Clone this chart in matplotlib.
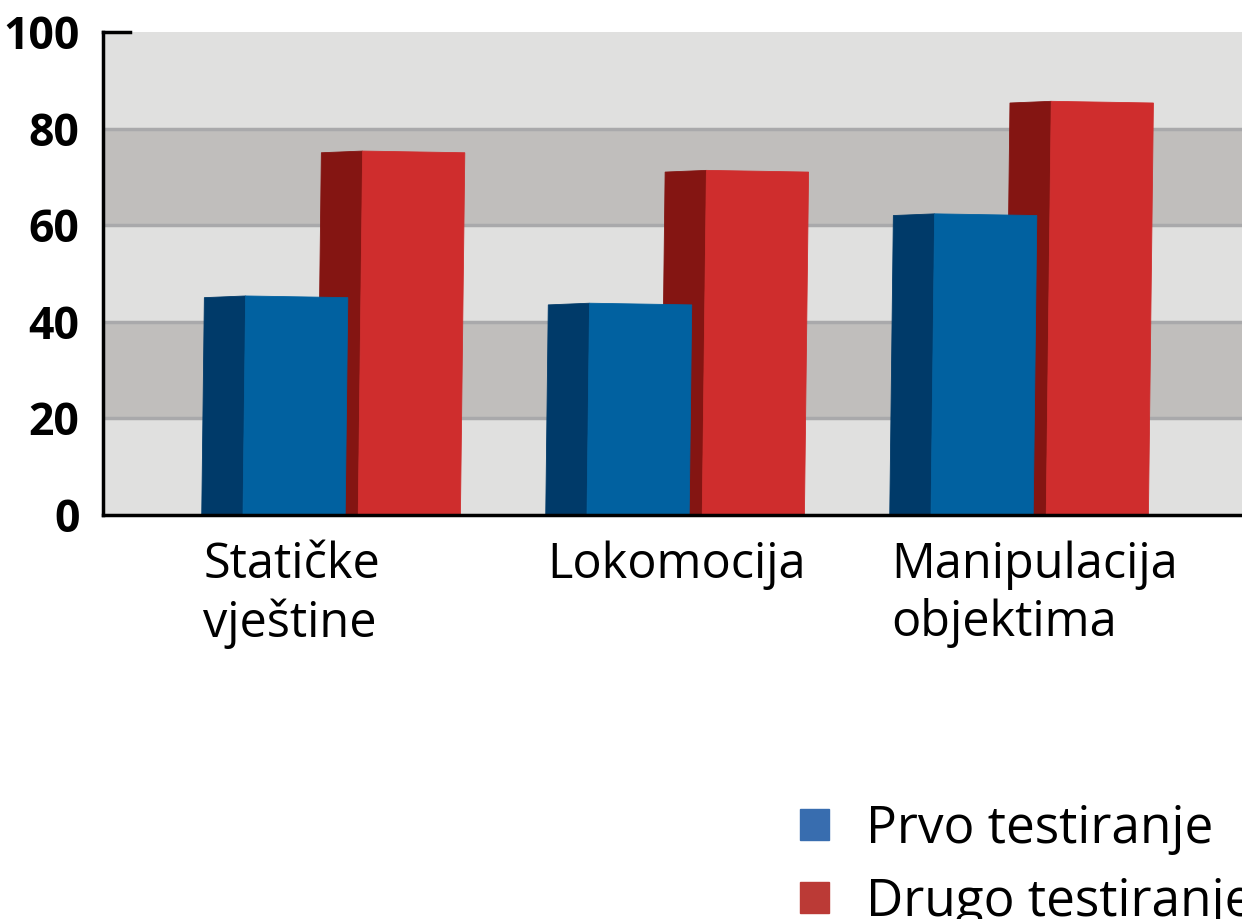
import numpy as np
import matplotlib
matplotlib.use("Agg")
import matplotlib.pyplot as plt
from matplotlib.patches import Polygon, Patch

plt.rcParams['font.family'] = ['Open Sans', 'DejaVu Sans']

# podaci
categories = ["Statičke\nvještine", "Lokomocija", "Manipulacija\nobjektima"]
series_names = ["Prvo testiranje", "Drugo testiranje"]
prvo = [45, 43.5, 62]
drugo = [75, 71, 85.3]
y_ticks = [0, 20, 40, 60, 80, 100]

# boje (prednja strana, bocna strana, legenda)
front_cols = ["#0161a0", "#cf2d2d"]
side_cols = ["#003a69", "#841512"]
legend_cols = ["#386daf", "#bb3a36"]

fig = plt.figure(figsize=(12.42, 9.19), dpi=100)
ax = fig.add_axes([103/1242, 1 - 515/919, 1 - 103/1242, (515 - 32)/919])

x = np.arange(len(categories))
ax.set_xlim(-0.666, 2.645)
ax.set_ylim(0, 100)

# pozadina s trakama
ax.set_facecolor("#e0e0df")
for lo in (20, 60):
    ax.axhspan(lo, lo + 20, color="#c0bebc", zorder=0)
for g in (20, 40, 60, 80):
    ax.axhline(g, color="#a9a9ab", lw=2.5, zorder=1)

# 3D stupci: bocna strana lijevo + prednja strana
w = 0.297      # sirina prednje strane
d = 0.12       # dubina bocne strane
offs = [-0.259, 0.076]   # lijevi rub prednje strane u grupi
skew = 1.7e-4  # nagib po jedinici visine
bump = 0.35    # perspektiva na vrhu

def draw_bar(xl, h, fc, sc, z):
    s = skew * h
    side = [(xl - d, 0), (xl, 0), (xl + s, h + bump), (xl - d + s, h)]
    front = [(xl, 0), (xl + w, 0), (xl + w + s, h), (xl + s, h + bump)]
    ax.add_patch(Polygon(side, closed=True, fc=sc, ec=sc, lw=0.6, zorder=z))
    ax.add_patch(Polygon(front, closed=True, fc=fc, ec=fc, lw=0.6, zorder=z))

for i in range(len(categories)):
    draw_bar(x[i] + offs[1], drugo[i], front_cols[1], side_cols[1], 3)
    draw_bar(x[i] + offs[0], prvo[i], front_cols[0], side_cols[0], 4)

# osi
for sp in ("top", "right"):
    ax.spines[sp].set_visible(False)
ax.spines["left"].set_linewidth(2.5)
ax.spines["bottom"].set_linewidth(2.5)
ax.spines["left"].set_zorder(6)
ax.spines["bottom"].set_zorder(6)
ax.plot([0, 0.024], [100, 100], color="black", lw=2.5, transform=ax.get_yaxis_transform(),
        clip_on=False, zorder=6)

ax.set_yticks(y_ticks)
ax.set_yticklabels([str(t) for t in y_ticks], fontsize=32, fontweight="bold")
ax.tick_params(axis="y", length=0, pad=17)
ax.set_xticks([])

for i, lab in enumerate(categories):
    ax.text(x[i] + offs[0] - d + 0.005, -5.2, lab, ha="left", va="top",
            fontsize=35, fontweight=500, linespacing=1.22, multialignment="left",
            clip_on=False)

# legenda je u originalu odrezana desnim/donjim rubom slike
handles = [Patch(fc=c, ec=c) for c in legend_cols]
fig.legend(handles, series_names, loc="upper left", bbox_to_anchor=(800/1242, 1 - 804/919),
           frameon=False, handlelength=0.56, handleheight=0.56,
           handletextpad=0.72, labelspacing=0.42, borderpad=0, borderaxespad=0,
           prop={"weight": 500, "size": 37})

fig.savefig("out.png", dpi=100)
